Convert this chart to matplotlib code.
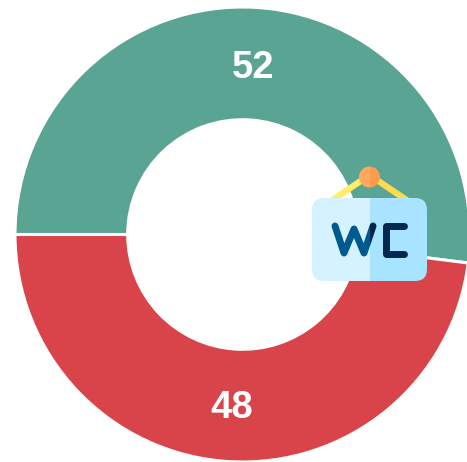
import matplotlib
matplotlib.use('Agg')
from matplotlib import pyplot as plt
from matplotlib.patches import Circle, FancyBboxPatch, Rectangle

values = [52, 48]
colors = ['#5aa493', '#d84449']

W, H = 467, 462

plt.rcParams['font.family'] = ['Liberation Sans', 'DejaVu Sans']
fig = plt.figure(figsize=(W / 100, H / 100), dpi=100)

# the ring
ax = fig.add_axes([0, 0, 1, 1])
outer = 227.5
_, _, pct = ax.pie(values, colors=colors, startangle=180, counterclock=False,
                   radius=outer, center=(242.5, H - 234.5),
                   autopct=lambda p: '%.0f' % p, pctdistance=0.75,
                   wedgeprops={'width': outer - 114.8, 'edgecolor': 'white', 'linewidth': 2.2},
                   textprops={'color': 'white', 'fontsize': 27.5, 'fontweight': 'bold'})
for t in pct:
    t.set_y(t.get_position()[1] - 3.5)
ax.set_xlim(0, W)
ax.set_ylim(0, H)
ax.set_aspect('equal')
ax.axis('off')

# the WC sign on top, in picture pixels
icon = fig.add_axes([0, 0, 1, 1])
icon.set_xlim(0, W)
icon.set_ylim(H, 0)
icon.axis('off')

icon.plot([369.5, 331], [175, 201], color='#ffed66', lw=4.5, solid_capstyle='butt', zorder=1)
icon.plot([369.5, 408], [175, 201], color='#ffd94f', lw=4.5, solid_capstyle='butt', zorder=1)

left_half = Rectangle((300, 160), 69.5, 130, transform=icon.transData)
right_half = Rectangle((369.5, 160), 70, 130, transform=icon.transData)

for clip, card, pin, wc in [(left_half, '#d6f1ff', '#ffa95f', '#005a92'),
                            (right_half, '#a8e3ff', '#ff9a4f', '#00284f')]:
    p = FancyBboxPatch((324, 210), 91, 59, boxstyle='round,pad=12,rounding_size=12',
                       fc=card, ec='none', zorder=2)
    icon.add_patch(p)
    p.set_clip_path(clip)
    c = Circle((369.5, 177), 10.5, fc=pin, ec='none', zorder=3)
    icon.add_patch(c)
    c.set_clip_path(clip)
    line, = icon.plot([335, 344, 354, 364, 373], [226, 253, 229, 253, 226], color=wc, lw=5,
                      solid_capstyle='round', solid_joinstyle='round', zorder=4)
    line.set_clip_path(clip)
    line, = icon.plot([404, 386, 386, 404], [226, 226, 254, 254], color=wc, lw=5,
                      solid_capstyle='round', solid_joinstyle='round', zorder=4)
    line.set_clip_path(clip)

fig.savefig('out.png', dpi=100)
